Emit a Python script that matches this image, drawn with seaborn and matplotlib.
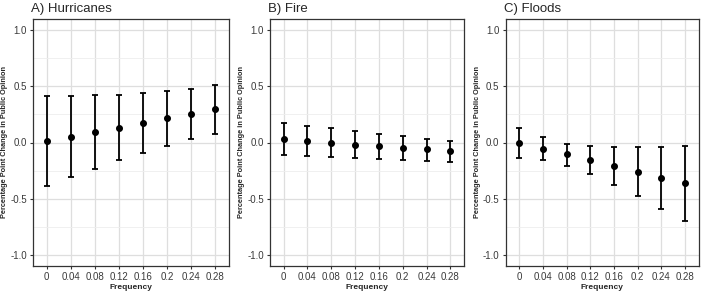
import pandas as pd
import seaborn as sns
import matplotlib.pyplot as plt

# Frequency levels shown on the x axis
freq = ['0', '0.04', '0.08', '0.12', '0.16', '0.2', '0.24', '0.28']

# Estimates and confidence bounds
hur_est = [0.01, 0.05, 0.09, 0.13, 0.17, 0.215, 0.255, 0.295]
hur_lo = [-0.39, -0.31, -0.235, -0.16, -0.09, -0.03, 0.03, 0.075]
hur_hi = [0.41, 0.41, 0.42, 0.425, 0.44, 0.46, 0.48, 0.515]

fire_est = [0.03, 0.015, 0.0, -0.02, -0.03, -0.045, -0.06, -0.08]
fire_lo = [-0.11, -0.12, -0.125, -0.135, -0.15, -0.155, -0.165, -0.175]
fire_hi = [0.17, 0.145, 0.125, 0.1, 0.075, 0.055, 0.035, 0.015]

flood_est = [0.0, -0.055, -0.105, -0.155, -0.21, -0.26, -0.315, -0.365]
flood_lo = [-0.135, -0.155, -0.205, -0.285, -0.38, -0.48, -0.59, -0.695]
flood_hi = [0.13, 0.045, -0.01, -0.03, -0.04, -0.04, -0.04, -0.035]

titles = ['A) Hurricanes', 'B) Fire', 'C) Floods']
panels = [(hur_est, hur_lo, hur_hi), (fire_est, fire_lo, fire_hi),
          (flood_est, flood_lo, flood_hi)]

sns.set_theme(style='whitegrid')
plt.rcParams['font.family'] = ['Liberation Sans', 'DejaVu Sans']

fig = plt.figure(figsize=(7.08, 2.93), dpi=100)
lefts = [33, 270, 505.7]
widths = [196, 194, 193]

for i, (est, lo, hi) in enumerate(panels):
    ax = fig.add_axes([lefts[i] / 708, 1 - 266 / 293, widths[i] / 708, 247 / 293])
    df = pd.DataFrame({'Frequency': freq, 'est': est, 'lo': lo, 'hi': hi})

    # error bars at the categorical positions seaborn uses
    ax.errorbar(range(len(df)), df['est'],
                yerr=[df['est'] - df['lo'], df['hi'] - df['est']],
                fmt='none', ecolor='black', elinewidth=1.3,
                capsize=2.3, capthick=1.3, zorder=3)
    sns.pointplot(data=df, x='Frequency', y='est', order=freq,
                  linestyle='none', color='black', markers='o',
                  markersize=3.0, errorbar=None, ax=ax, zorder=4)

    ax.set_xlim(-0.57, 7.57)
    ax.set_ylim(-1.1, 1.1)
    ax.set_yticks([-1.0, -0.5, 0.0, 0.5, 1.0])
    ax.set_yticklabels(['-1.0', '-0.5', '0.0', '0.5', '1.0'])
    ax.set_yticks([-0.75, -0.25, 0.25, 0.75], minor=True)

    ax.grid(True, which='major', color='#dedede', linewidth=0.9)
    ax.grid(True, which='minor', axis='y', color='#eeeeee', linewidth=0.6)
    ax.set_axisbelow(True)
    for s in ax.spines.values():
        s.set_color('#333333')
        s.set_linewidth(0.9)
    ax.tick_params(axis='both', which='major', labelsize=7,
                   labelcolor='#3a3a3a', color='#333333',
                   length=2.5, width=0.8, pad=2, left=True, bottom=True)
    ax.tick_params(axis='y', which='minor', left=False)

    ax.set_xlabel('Frequency', fontsize=6, fontweight='bold', labelpad=1)
    ax.set_ylabel('Percentage Point Change in Public Opinion',
                  fontsize=5.3, fontweight='bold', labelpad=1.5)
    ax.set_title(titles[i], fontsize=9.5, loc='left', x=-0.01, pad=5)

plt.savefig('out.png', dpi=100)
